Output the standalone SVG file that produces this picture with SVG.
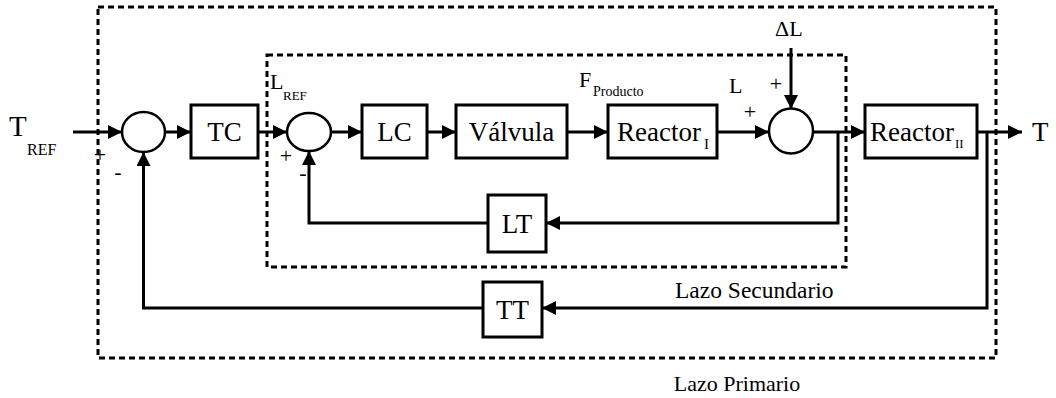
<svg xmlns="http://www.w3.org/2000/svg" width="1056" height="398" viewBox="0 0 1056 398" font-family="Liberation Serif, DejaVu Serif, serif">
<defs>
<marker id="ah" markerUnits="userSpaceOnUse" markerWidth="14" markerHeight="14" refX="14" refY="7" orient="auto">
<path d="M0,0 L14,7 L0,14 Z" fill="#000"/>
</marker>
<style>
.box{fill:#fff;stroke:#000;stroke-width:3}
.sum{fill:#fff;stroke:#000;stroke-width:2.5}
.dash{fill:none;stroke:#000;stroke-width:3;stroke-dasharray:6 4}
.a{fill:none;stroke:#000;stroke-width:3;marker-end:url(#ah)}
.lbl{font-size:27px;text-anchor:middle}
.big{font-size:22px}
.sub{font-size:13px}
</style>
</defs>
<rect class="dash" x="98" y="7" width="898" height="351"/>
<rect class="dash" x="267" y="55" width="579" height="212"/>
<g id="connectors">
<line class="a" x1="73" y1="132" x2="122" y2="132"/>
<line class="a" x1="165" y1="132" x2="191" y2="132"/>
<line class="a" x1="258" y1="132" x2="287" y2="132"/>
<line class="a" x1="331" y1="132" x2="362" y2="132"/>
<line class="a" x1="427" y1="132" x2="456" y2="132"/>
<line class="a" x1="567" y1="132" x2="608" y2="132"/>
<line class="a" x1="717" y1="132" x2="769" y2="132"/>
<line class="a" x1="791" y1="48" x2="791" y2="109"/>
<line class="a" x1="813" y1="132" x2="865" y2="132"/>
<polyline class="a" points="838,132 838,223 546,223"/>
<polyline class="a" points="488,223 309,223 309,151"/>
<line class="a" x1="977" y1="132" x2="1022" y2="132"/>
<polyline class="a" points="987,132 987,308 542,308"/>
<polyline class="a" points="483,308 143.5,308 143.5,152"/>
</g>
<g id="sum1"><ellipse class="sum" cx="143.5" cy="132" rx="21.5" ry="20"/></g>
<g id="sum2"><ellipse class="sum" cx="309" cy="132" rx="22" ry="19"/></g>
<g id="sum3"><ellipse class="sum" cx="791" cy="131" rx="22" ry="22.5"/></g>
<g id="TC"><rect class="box" x="191" y="105" width="67" height="53"/><text class="lbl" x="224.5" y="141">TC</text></g>
<g id="LC"><rect class="box" x="362" y="105" width="65" height="53"/><text class="lbl" x="394.5" y="141">LC</text></g>
<g id="Valvula"><rect class="box" x="456" y="105" width="111" height="53"/><text class="lbl" x="511.5" y="141">Válvula</text></g>
<g id="ReactorI"><rect class="box" x="608" y="105" width="109" height="53"/><text x="617" y="141" font-size="27">Reactor</text><text x="704" y="149" font-size="15">I</text></g>
<g id="ReactorII"><rect class="box" x="865" y="105" width="112" height="53"/><text x="870" y="141" font-size="27">Reactor</text><text x="955" y="148" font-size="13">II</text></g>
<g id="LT"><rect class="box" x="488" y="195" width="58" height="57"/><text class="lbl" x="517" y="233">LT</text></g>
<g id="TT"><rect class="box" x="483" y="282" width="59" height="55"/><text class="lbl" x="512.5" y="319">TT</text></g>
<g id="labels">
<text x="9" y="136" font-size="29">T</text>
<text x="27" y="155" font-size="16">REF</text>
<text x="100" y="162" class="big" text-anchor="middle">+</text>
<text x="118" y="179" class="big" text-anchor="middle">-</text>
<text x="270" y="89" class="big">L</text>
<text x="283" y="100" class="sub">REF</text>
<text x="286" y="163" class="big" text-anchor="middle">+</text>
<text x="303" y="180" class="big" text-anchor="middle">-</text>
<text x="579" y="87" class="big">F</text>
<text x="593" y="96" font-size="14">Producto</text>
<text x="729" y="93" class="big">L</text>
<text x="776" y="91" class="big" text-anchor="middle">+</text>
<text x="750" y="119" class="big" text-anchor="middle">+</text>
<text x="775" y="36" class="big">ΔL</text>
<text x="1032" y="141" font-size="27">T</text>
<text x="675" y="298" font-size="23.5">Lazo Secundario</text>
<text x="737" y="391" class="big" text-anchor="middle">Lazo Primario</text>
</g>
</svg>
